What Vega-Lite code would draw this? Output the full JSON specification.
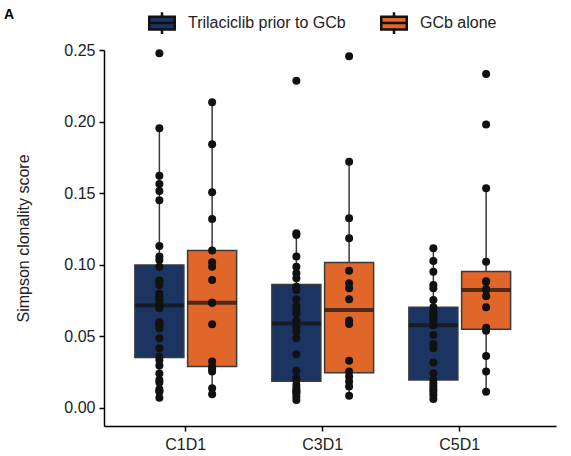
{
  "$schema": "https://vega.github.io/schema/vega-lite/v6.json",
  "width": 452,
  "height": 376,
  "autosize": {"type": "none"},
  "padding": {"left": 104, "top": 50, "right": 15, "bottom": 30},
  "config": {
    "font": "Liberation Sans",
    "view": {"stroke": null},
    "axis": {
      "grid": false,
      "domainColor": "#000",
      "domainWidth": 1.5,
      "tickColor": "#000",
      "tickWidth": 1.5,
      "tickSize": 5,
      "labelFont": "Liberation Sans",
      "labelFontSize": 16,
      "labelColor": "#222",
      "titleFont": "Liberation Sans",
      "titleFontSize": 16,
      "titleFontWeight": "normal",
      "titleColor": "#222"
    }
  },
  "title": {"text": "A", "anchor": "start", "frame": "group", "fontSize": 14, "fontWeight": "bold", "font": "Liberation Sans", "dx": -100, "offset": 0, "dy": 13},
  "data": {
    "values": [
      {"visit": "C1D1", "group": "Trilaciclib prior to GCb", "value": 0.2478},
      {"visit": "C1D1", "group": "Trilaciclib prior to GCb", "value": 0.1953},
      {"visit": "C1D1", "group": "Trilaciclib prior to GCb", "value": 0.1622},
      {"visit": "C1D1", "group": "Trilaciclib prior to GCb", "value": 0.1564},
      {"visit": "C1D1", "group": "Trilaciclib prior to GCb", "value": 0.1515},
      {"visit": "C1D1", "group": "Trilaciclib prior to GCb", "value": 0.1450},
      {"visit": "C1D1", "group": "Trilaciclib prior to GCb", "value": 0.1131},
      {"visit": "C1D1", "group": "Trilaciclib prior to GCb", "value": 0.1057},
      {"visit": "C1D1", "group": "Trilaciclib prior to GCb", "value": 0.1034},
      {"visit": "C1D1", "group": "Trilaciclib prior to GCb", "value": 0.0987},
      {"visit": "C1D1", "group": "Trilaciclib prior to GCb", "value": 0.0890},
      {"visit": "C1D1", "group": "Trilaciclib prior to GCb", "value": 0.0887},
      {"visit": "C1D1", "group": "Trilaciclib prior to GCb", "value": 0.0859},
      {"visit": "C1D1", "group": "Trilaciclib prior to GCb", "value": 0.0800},
      {"visit": "C1D1", "group": "Trilaciclib prior to GCb", "value": 0.0777},
      {"visit": "C1D1", "group": "Trilaciclib prior to GCb", "value": 0.0765},
      {"visit": "C1D1", "group": "Trilaciclib prior to GCb", "value": 0.0754},
      {"visit": "C1D1", "group": "Trilaciclib prior to GCb", "value": 0.0720},
      {"visit": "C1D1", "group": "Trilaciclib prior to GCb", "value": 0.0710},
      {"visit": "C1D1", "group": "Trilaciclib prior to GCb", "value": 0.0696},
      {"visit": "C1D1", "group": "Trilaciclib prior to GCb", "value": 0.0600},
      {"visit": "C1D1", "group": "Trilaciclib prior to GCb", "value": 0.0584},
      {"visit": "C1D1", "group": "Trilaciclib prior to GCb", "value": 0.0580},
      {"visit": "C1D1", "group": "Trilaciclib prior to GCb", "value": 0.0556},
      {"visit": "C1D1", "group": "Trilaciclib prior to GCb", "value": 0.0487},
      {"visit": "C1D1", "group": "Trilaciclib prior to GCb", "value": 0.0417},
      {"visit": "C1D1", "group": "Trilaciclib prior to GCb", "value": 0.0358},
      {"visit": "C1D1", "group": "Trilaciclib prior to GCb", "value": 0.0335},
      {"visit": "C1D1", "group": "Trilaciclib prior to GCb", "value": 0.0296},
      {"visit": "C1D1", "group": "Trilaciclib prior to GCb", "value": 0.0240},
      {"visit": "C1D1", "group": "Trilaciclib prior to GCb", "value": 0.0196},
      {"visit": "C1D1", "group": "Trilaciclib prior to GCb", "value": 0.0177},
      {"visit": "C1D1", "group": "Trilaciclib prior to GCb", "value": 0.0130},
      {"visit": "C1D1", "group": "Trilaciclib prior to GCb", "value": 0.0119},
      {"visit": "C1D1", "group": "Trilaciclib prior to GCb", "value": 0.0114},
      {"visit": "C1D1", "group": "Trilaciclib prior to GCb", "value": 0.0072},
      {"visit": "C1D1", "group": "GCb alone", "value": 0.2135},
      {"visit": "C1D1", "group": "GCb alone", "value": 0.1841},
      {"visit": "C1D1", "group": "GCb alone", "value": 0.1506},
      {"visit": "C1D1", "group": "GCb alone", "value": 0.1320},
      {"visit": "C1D1", "group": "GCb alone", "value": 0.1099},
      {"visit": "C1D1", "group": "GCb alone", "value": 0.1017},
      {"visit": "C1D1", "group": "GCb alone", "value": 0.0987},
      {"visit": "C1D1", "group": "GCb alone", "value": 0.0894},
      {"visit": "C1D1", "group": "GCb alone", "value": 0.0735},
      {"visit": "C1D1", "group": "GCb alone", "value": 0.0735},
      {"visit": "C1D1", "group": "GCb alone", "value": 0.0584},
      {"visit": "C1D1", "group": "GCb alone", "value": 0.0324},
      {"visit": "C1D1", "group": "GCb alone", "value": 0.0289},
      {"visit": "C1D1", "group": "GCb alone", "value": 0.0270},
      {"visit": "C1D1", "group": "GCb alone", "value": 0.0254},
      {"visit": "C1D1", "group": "GCb alone", "value": 0.0137},
      {"visit": "C1D1", "group": "GCb alone", "value": 0.0096},
      {"visit": "C3D1", "group": "Trilaciclib prior to GCb", "value": 0.2286},
      {"visit": "C3D1", "group": "Trilaciclib prior to GCb", "value": 0.1220},
      {"visit": "C3D1", "group": "Trilaciclib prior to GCb", "value": 0.1208},
      {"visit": "C3D1", "group": "Trilaciclib prior to GCb", "value": 0.1057},
      {"visit": "C3D1", "group": "Trilaciclib prior to GCb", "value": 0.0987},
      {"visit": "C3D1", "group": "Trilaciclib prior to GCb", "value": 0.0940},
      {"visit": "C3D1", "group": "Trilaciclib prior to GCb", "value": 0.0906},
      {"visit": "C3D1", "group": "Trilaciclib prior to GCb", "value": 0.0847},
      {"visit": "C3D1", "group": "Trilaciclib prior to GCb", "value": 0.0824},
      {"visit": "C3D1", "group": "Trilaciclib prior to GCb", "value": 0.0759},
      {"visit": "C3D1", "group": "Trilaciclib prior to GCb", "value": 0.0712},
      {"visit": "C3D1", "group": "Trilaciclib prior to GCb", "value": 0.0690},
      {"visit": "C3D1", "group": "Trilaciclib prior to GCb", "value": 0.0661},
      {"visit": "C3D1", "group": "Trilaciclib prior to GCb", "value": 0.0610},
      {"visit": "C3D1", "group": "Trilaciclib prior to GCb", "value": 0.0568},
      {"visit": "C3D1", "group": "Trilaciclib prior to GCb", "value": 0.0533},
      {"visit": "C3D1", "group": "Trilaciclib prior to GCb", "value": 0.0487},
      {"visit": "C3D1", "group": "Trilaciclib prior to GCb", "value": 0.0375},
      {"visit": "C3D1", "group": "Trilaciclib prior to GCb", "value": 0.0260},
      {"visit": "C3D1", "group": "Trilaciclib prior to GCb", "value": 0.0210},
      {"visit": "C3D1", "group": "Trilaciclib prior to GCb", "value": 0.0196},
      {"visit": "C3D1", "group": "Trilaciclib prior to GCb", "value": 0.0161},
      {"visit": "C3D1", "group": "Trilaciclib prior to GCb", "value": 0.0137},
      {"visit": "C3D1", "group": "Trilaciclib prior to GCb", "value": 0.0120},
      {"visit": "C3D1", "group": "Trilaciclib prior to GCb", "value": 0.0114},
      {"visit": "C3D1", "group": "Trilaciclib prior to GCb", "value": 0.0103},
      {"visit": "C3D1", "group": "Trilaciclib prior to GCb", "value": 0.0080},
      {"visit": "C3D1", "group": "Trilaciclib prior to GCb", "value": 0.0056},
      {"visit": "C3D1", "group": "GCb alone", "value": 0.2456},
      {"visit": "C3D1", "group": "GCb alone", "value": 0.1720},
      {"visit": "C3D1", "group": "GCb alone", "value": 0.1325},
      {"visit": "C3D1", "group": "GCb alone", "value": 0.1185},
      {"visit": "C3D1", "group": "GCb alone", "value": 0.0959},
      {"visit": "C3D1", "group": "GCb alone", "value": 0.0871},
      {"visit": "C3D1", "group": "GCb alone", "value": 0.0836},
      {"visit": "C3D1", "group": "GCb alone", "value": 0.0759},
      {"visit": "C3D1", "group": "GCb alone", "value": 0.0610},
      {"visit": "C3D1", "group": "GCb alone", "value": 0.0587},
      {"visit": "C3D1", "group": "GCb alone", "value": 0.0330},
      {"visit": "C3D1", "group": "GCb alone", "value": 0.0254},
      {"visit": "C3D1", "group": "GCb alone", "value": 0.0219},
      {"visit": "C3D1", "group": "GCb alone", "value": 0.0184},
      {"visit": "C3D1", "group": "GCb alone", "value": 0.0150},
      {"visit": "C3D1", "group": "GCb alone", "value": 0.0086},
      {"visit": "C5D1", "group": "Trilaciclib prior to GCb", "value": 0.1115},
      {"visit": "C5D1", "group": "Trilaciclib prior to GCb", "value": 0.1027},
      {"visit": "C5D1", "group": "Trilaciclib prior to GCb", "value": 0.0952},
      {"visit": "C5D1", "group": "Trilaciclib prior to GCb", "value": 0.0859},
      {"visit": "C5D1", "group": "Trilaciclib prior to GCb", "value": 0.0836},
      {"visit": "C5D1", "group": "Trilaciclib prior to GCb", "value": 0.0754},
      {"visit": "C5D1", "group": "Trilaciclib prior to GCb", "value": 0.0703},
      {"visit": "C5D1", "group": "Trilaciclib prior to GCb", "value": 0.0673},
      {"visit": "C5D1", "group": "Trilaciclib prior to GCb", "value": 0.0660},
      {"visit": "C5D1", "group": "Trilaciclib prior to GCb", "value": 0.0638},
      {"visit": "C5D1", "group": "Trilaciclib prior to GCb", "value": 0.0620},
      {"visit": "C5D1", "group": "Trilaciclib prior to GCb", "value": 0.0603},
      {"visit": "C5D1", "group": "Trilaciclib prior to GCb", "value": 0.0578},
      {"visit": "C5D1", "group": "Trilaciclib prior to GCb", "value": 0.0510},
      {"visit": "C5D1", "group": "Trilaciclib prior to GCb", "value": 0.0447},
      {"visit": "C5D1", "group": "Trilaciclib prior to GCb", "value": 0.0417},
      {"visit": "C5D1", "group": "Trilaciclib prior to GCb", "value": 0.0317},
      {"visit": "C5D1", "group": "Trilaciclib prior to GCb", "value": 0.0242},
      {"visit": "C5D1", "group": "Trilaciclib prior to GCb", "value": 0.0195},
      {"visit": "C5D1", "group": "Trilaciclib prior to GCb", "value": 0.0170},
      {"visit": "C5D1", "group": "Trilaciclib prior to GCb", "value": 0.0150},
      {"visit": "C5D1", "group": "Trilaciclib prior to GCb", "value": 0.0131},
      {"visit": "C5D1", "group": "Trilaciclib prior to GCb", "value": 0.0114},
      {"visit": "C5D1", "group": "Trilaciclib prior to GCb", "value": 0.0090},
      {"visit": "C5D1", "group": "Trilaciclib prior to GCb", "value": 0.0063},
      {"visit": "C5D1", "group": "GCb alone", "value": 0.2332},
      {"visit": "C5D1", "group": "GCb alone", "value": 0.1980},
      {"visit": "C5D1", "group": "GCb alone", "value": 0.1534},
      {"visit": "C5D1", "group": "GCb alone", "value": 0.1022},
      {"visit": "C5D1", "group": "GCb alone", "value": 0.0885},
      {"visit": "C5D1", "group": "GCb alone", "value": 0.0882},
      {"visit": "C5D1", "group": "GCb alone", "value": 0.0830},
      {"visit": "C5D1", "group": "GCb alone", "value": 0.0824},
      {"visit": "C5D1", "group": "GCb alone", "value": 0.0780},
      {"visit": "C5D1", "group": "GCb alone", "value": 0.0703},
      {"visit": "C5D1", "group": "GCb alone", "value": 0.0560},
      {"visit": "C5D1", "group": "GCb alone", "value": 0.0540},
      {"visit": "C5D1", "group": "GCb alone", "value": 0.0363},
      {"visit": "C5D1", "group": "GCb alone", "value": 0.0254},
      {"visit": "C5D1", "group": "GCb alone", "value": 0.0114}
    ]
  },
  "encoding": {
    "x": {
      "field": "visit",
      "type": "nominal",
      "title": null,
      "scale": {"paddingInner": 0.23, "paddingOuter": 0.2647, "align": 0.4},
      "axis": {"labelAngle": 0, "labelPadding": 5}
    },
    "xOffset": {
      "field": "group",
      "type": "nominal",
      "scale": {"domain": ["Trilaciclib prior to GCb", "GCb alone"], "paddingInner": 0, "paddingOuter": 0}
    },
    "y": {
      "field": "value",
      "type": "quantitative",
      "title": "Simpson clonality score",
      "scale": {"domain": [-0.0126, 0.25], "nice": false, "zero": false},
      "axis": {"values": [0, 0.05, 0.1, 0.15, 0.2, 0.25], "format": ".2f", "labelPadding": 4, "titlePadding": 32}
    }
  },
  "layer": [
    {
      "mark": {
        "type": "boxplot",
        "extent": 1.5,
        "size": 49,
        "outliers": false,
        "ticks": false,
        "box": {"stroke": "#3a3a3a", "strokeWidth": 1.5, "opacity": 1},
        "median": {"color": "#111111", "thickness": 4},
        "rule": {"color": "#3a3a3a", "strokeWidth": 1.5}
      },
      "encoding": {
        "color": {
          "field": "group",
          "type": "nominal",
          "scale": {"domain": ["Trilaciclib prior to GCb", "GCb alone"], "range": ["#1c3461", "#e0662a"]},
          "legend": {
            "title": null,
            "orient": "none",
            "legendX": 44,
            "legendY": -41,
            "direction": "horizontal",
            "symbolType": "M-1,-0.5H1V0.5H-1Z M-1,0H1 M0,-0.5V-0.85 M0,0.5V0.85",
            "symbolSize": 650,
            "symbolStrokeColor": "#111111",
            "symbolStrokeWidth": 2.5,
            "symbolOpacity": 1,
            "labelFontSize": 16,
            "labelFont": "Liberation Sans",
            "labelColor": "#222",
            "labelOffset": 12,
            "columnPadding": 30,
            "padding": 0
          }
        }
      }
    },
    {
      "mark": {"type": "circle", "size": 64, "color": "#111111", "opacity": 1},
      "encoding": {}
    }
  ]
}
